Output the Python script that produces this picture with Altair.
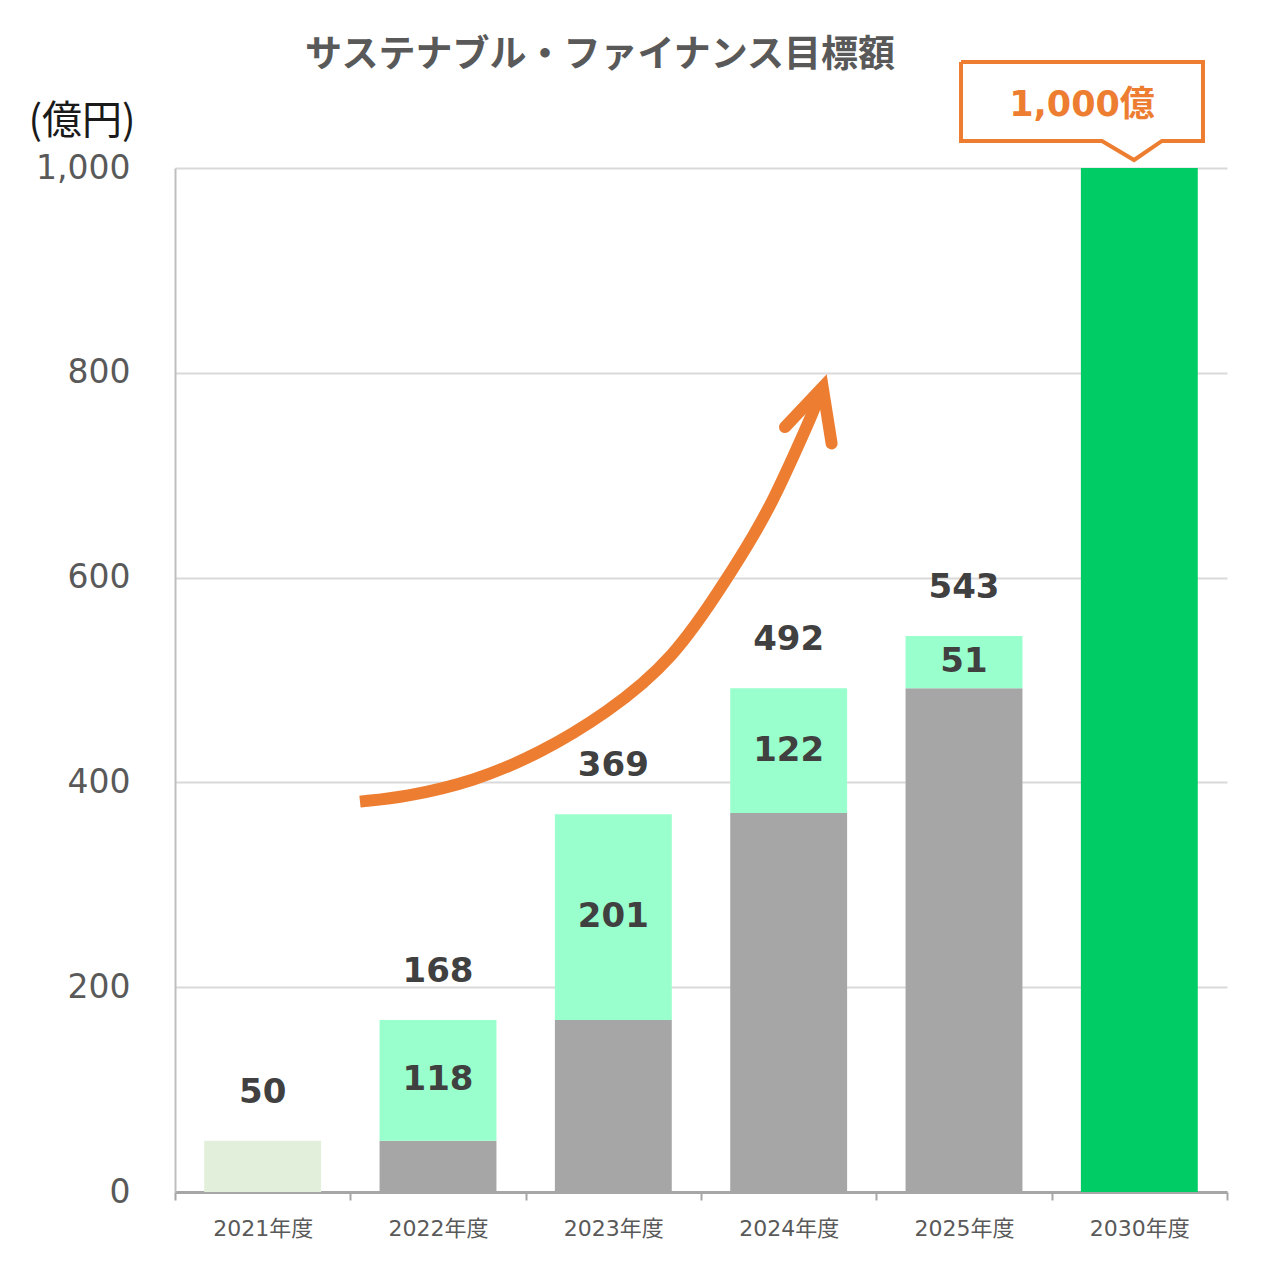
import altair as alt
import pandas as pd

# ---- data ----
years = ["2021年度", "2022年度", "2023年度", "2024年度", "2025年度", "2030年度"]
totals = [50, 168, 369, 492, 543, 1000]
increments = [50, 118, 201, 122, 51, 1000]
inc_kind = ["light", "mint", "mint", "mint", "mint", "target"]
total_labels = ["50", "168", "369", "492", "543", ""]
inner_labels = ["", "118", "201", "122", "51", ""]
y_ticks = [0, 200, 400, 600, 800, 1000]

# decorative arrow (x in category units 0..6, y in 億円)
arrow_x = [1.055, 1.321, 1.701, 2.082, 2.462, 2.842, 3.156, 3.308, 3.412, 3.526, 3.641, 3.694]
arrow_y = [381.2, 386.0, 400.7, 428.4, 467.5, 519.5, 600.9, 643.3, 675.8, 718.0, 762.0, 786.0]
head_x = [3.479, 3.694, 3.745]
head_y = [747.0, 786.0, 731.0]

# callout box for the 2030 target
callout_x = [4.483, 5.863, 5.863, 5.629, 5.470, 5.287, 4.483, 4.483]
callout_y = [1103.5, 1103.5, 1026.4, 1026.4, 1007.8, 1026.4, 1026.4, 1103.5]
callout_text = "1,000億"
callout_text_x = 5.173
callout_text_y = 1061.5

title_text = "サステナブル・ファイナンス目標額"
title_x = 2.424
title_y = 1109.0
unit_text = "(億円)"

# ---- tables ----
seg_rows = []
for yr, tot, inc, kind in zip(years, totals, increments, inc_kind):
    base = tot - inc
    if base > 0:
        seg_rows.append({"year": yr, "y0": 0, "y1": base, "kind": "base"})
    seg_rows.append({"year": yr, "y0": base, "y1": tot, "kind": kind})
seg = pd.DataFrame(seg_rows)

lab = pd.DataFrame({
    "year": years,
    "total": totals,
    "mid": [t - i / 2 for t, i in zip(totals, increments)],
    "tlabel": total_labels,
    "ilabel": inner_labels,
})

arrow_df = pd.DataFrame({"x": arrow_x, "y": arrow_y, "o": list(range(len(arrow_x)))})
head_df = pd.DataFrame({"x": head_x, "y": head_y, "o": list(range(len(head_x)))})
call_df = pd.DataFrame({"x": callout_x, "y": callout_y, "o": list(range(len(callout_x)))})
calltext_df = pd.DataFrame({"x": [callout_text_x], "y": [callout_text_y], "t": [callout_text]})
title_df = pd.DataFrame({"x": [title_x], "y": [title_y], "t": [title_text]})

NUMFONT = "DejaVu Sans, Noto Sans CJK JP"
CJK = "Noto Sans CJK JP"
ORANGE = "#ED7D31"

yscale = alt.Scale(domain=[0, 1000], nice=False, zero=True)
xscale = alt.Scale(paddingInner=0, paddingOuter=0)
xband = alt.X(
    "year:N", sort=years, scale=xscale,
    axis=alt.Axis(
        title=None, labelAngle=0, labelFontSize=22, labelColor="#595959",
        labelFont=NUMFONT, labelPadding=18, tickBand="extent", tickSize=8,
        tickColor="#A6A6A6", tickWidth=2, domainColor="#A6A6A6", domainWidth=3,
        grid=False,
    ),
)
yaxis = alt.Axis(
    values=y_ticks, format=",.0f", labelFontSize=33, labelColor="#595959",
    labelFont=NUMFONT, labelPadding=45, tickSize=0, domainColor="#BFBFBF",
    domainWidth=2, grid=True, gridColor="#D9D9D9", gridWidth=2,
    title=unit_text, titleAngle=0, titleX=-147, titleY=-47, titleAlign="left",
    titleBaseline="middle", titleFontSize=40, titleFont=CJK,
    titleFontWeight="normal", titleColor="#1a1a1a",
)

bars = alt.Chart(seg).mark_bar(width=alt.RelativeBandSize(0.6667)).encode(
    x=xband,
    y=alt.Y("y1:Q", scale=yscale, axis=yaxis),
    y2="y0:Q",
    color=alt.Color(
        "kind:N",
        scale=alt.Scale(domain=["base", "light", "mint", "target"],
                        range=["#A6A6A6", "#E2EFDA", "#99FFCC", "#00CC66"]),
        legend=None,
    ),
)

xt = alt.X("year:N", sort=years, scale=xscale)

tot_text = alt.Chart(lab).mark_text(
    dy=-48, fontSize=34, fontWeight="bold", color="#404040", font=NUMFONT,
    baseline="middle",
).encode(x=xt, y=alt.Y("total:Q", scale=yscale), text="tlabel:N")

inner_text = alt.Chart(lab).mark_text(
    fontSize=34, fontWeight="bold", color="#404040", font=NUMFONT, baseline="middle",
).encode(x=xt, y=alt.Y("mid:Q", scale=yscale), text="ilabel:N")

xq = alt.X("x:Q", scale=alt.Scale(domain=[0, 6], nice=False, zero=False), axis=None)
yq = alt.Y("y:Q", scale=yscale)

arrow = alt.Chart(arrow_df).mark_line(
    color=ORANGE, strokeWidth=12, interpolate="basis", strokeCap="butt",
).encode(x=xq, y=yq, order="o:Q")

head = alt.Chart(head_df).mark_line(
    color=ORANGE, strokeWidth=12, strokeCap="round", strokeJoin="miter",
).encode(x=xq, y=yq, order="o:Q")

callout = alt.Chart(call_df).mark_line(
    color=ORANGE, strokeWidth=4, strokeJoin="miter",
).encode(x=xq, y=yq, order="o:Q")

calltext = alt.Chart(calltext_df).mark_text(
    fontSize=35, fontWeight="bold", color=ORANGE, font=NUMFONT, baseline="middle",
).encode(x=xq, y=yq, text="t:N")

title_mark = alt.Chart(title_df).mark_text(
    fontSize=37, fontWeight="bold", color="#595959", font=CJK, baseline="middle",
).encode(x=xq, y=yq, text="t:N")

base_layer = alt.layer(bars, tot_text, inner_text)
anno_layer = alt.layer(arrow, head, callout, calltext, title_mark)

chart = alt.layer(base_layer, anno_layer).resolve_scale(x="independent").properties(
    width=1052, height=1024,
    padding={"left": 175, "top": 168, "right": 51, "bottom": 85},
    autosize=alt.AutoSizeParams(type="none"),
    background="white",
).configure_view(strokeWidth=0, stroke="transparent")

chart.save("out.html", embed_options={"renderer": "svg", "actions": False})
